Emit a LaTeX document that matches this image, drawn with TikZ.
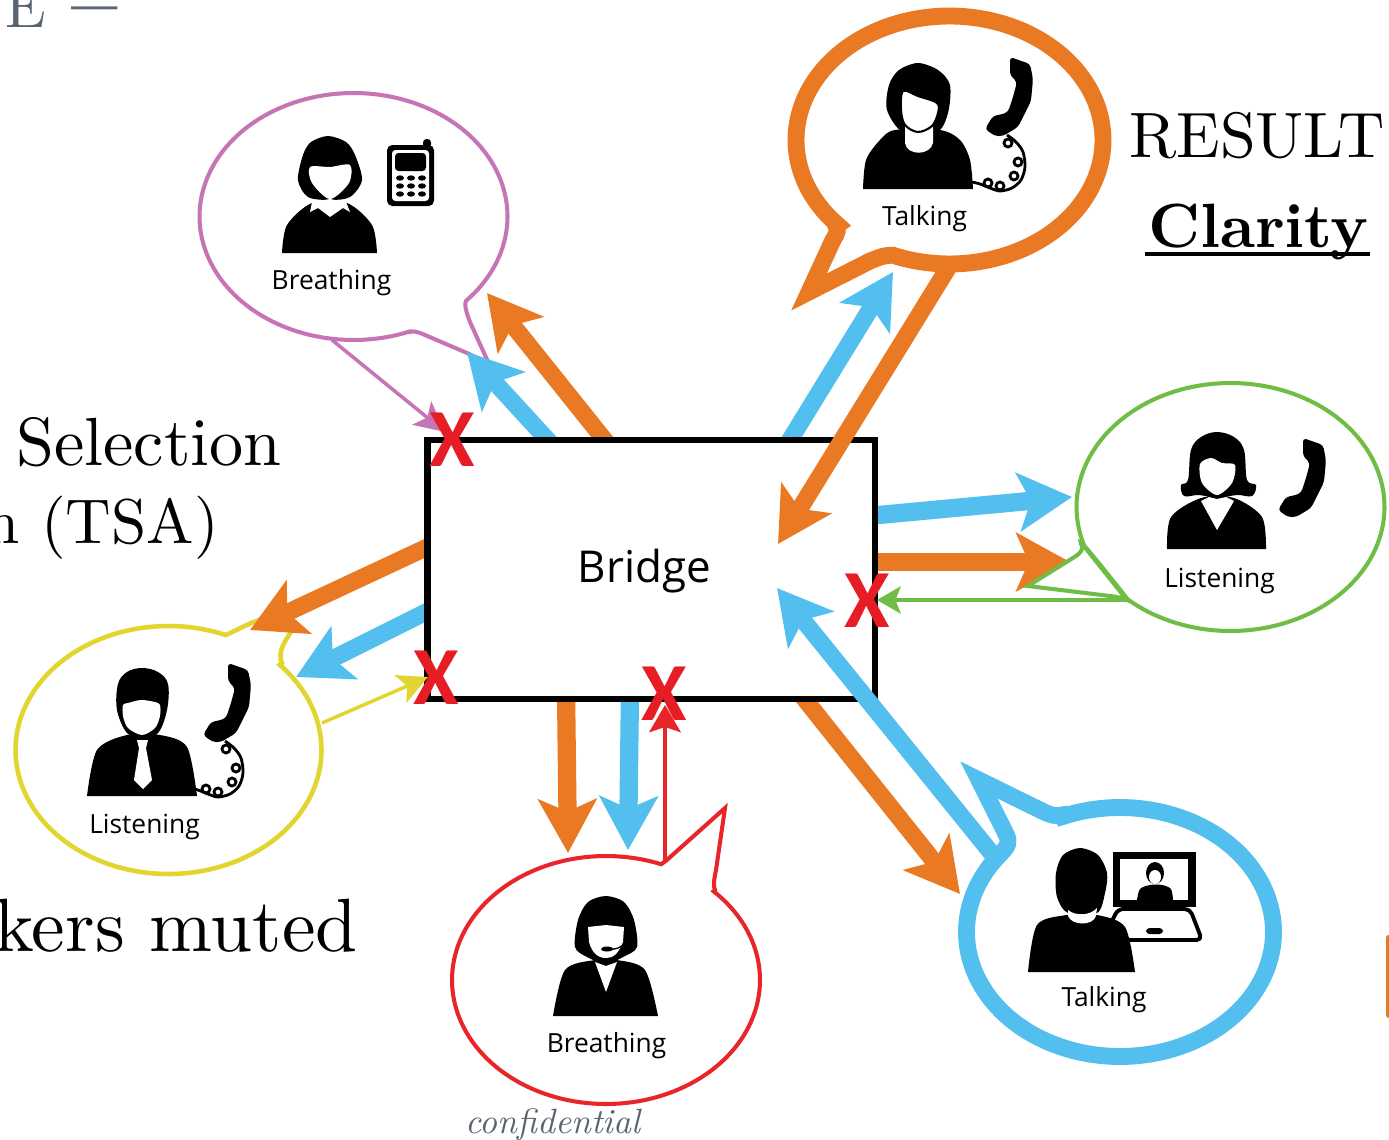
\documentclass[tikz,border=0pt]{standalone}
\usepackage{fontspec}
\usetikzlibrary{arrows.meta}
\newfontfamily\labfont{Open Sans}
\newfontfamily\xfont{Carlito}
\newfontfamily\romanten{lmroman10-regular}[Extension=.otf]
\newfontfamily\romantenit{lmroman10-italic}[Extension=.otf]
\newfontfamily\romantenbf{lmroman10-bold}[Extension=.otf]
\definecolor{cOr}{HTML}{EA7924}
\definecolor{cBl}{HTML}{53BFEE}
\definecolor{cPk}{HTML}{C674B5}
\definecolor{cGn}{HTML}{6FBD45}
\definecolor{cYe}{HTML}{E3D52F}
\definecolor{cRd}{HTML}{E8262A}
\definecolor{cX}{HTML}{E71D25}
\definecolor{cGy}{HTML}{5A6472}
\tikzset{
  bigtip/.style={-{Stealth[length=30.5pt,width=33pt,inset=7pt]}},
  thickshaft/.style={bigtip,line width=10.4pt},
  thinshaft/.style={bigtip,line width=9.8pt},
  smalltip/.style={-{Stealth[length=17pt,width=17pt,inset=4pt]},line width=2pt},
  sil/.style={fill=black},
  wh/.style={fill=white},
  tag/.style={anchor=base,font=\labfont\fontsize{15pt}{17pt}\selectfont,text=black,inner sep=0pt},
  crossmark/.style={text=cX,inner sep=0pt,font=\xfont\bfseries\fontsize{47pt}{50pt}\selectfont},
  bigserif/.style={inner sep=0pt,font=\romanten\fontsize{38.8pt}{42pt}\selectfont}
}
% bubble: colour, width(pt), cx, cy, rx, ry, a1, a2, tail
\newcommand{\speech}[9]{\draw[#1,line width=#2pt,line join=miter,miter limit=20] plot[domain=#7:#8,samples=140] ({#3+#5*cos(\x)},{#4+#6*sin(\x)}) #9 -- cycle;}
\newcommand{\handset}{\fill[black,rounded corners=2] (0,0)--(20,7)--(23,22)--(21,44)--(8,70)--(-7,79)--(-15,79)--(-25,72)--(-17,59)--(-7,57)--(-2,55)--(3,40)--(7,25)--(0,18)--cycle;}
\newcommand{\phonecord}{\draw[black,line width=1.6pt] plot[smooth] coordinates {(-3,78)(6,85)(13,95)(15,110)(11,123)(2,131)(-10,134)(-20,131)(-30,127)(-38,125)};
  \foreach \p in {(-2,86),(8,105),(4,119),(-10,129),(-22,126)} {\draw[black,line width=1.6pt] \p circle[x radius=4,y radius=4];}}
\begin{document}
\begin{tikzpicture}[x=0.02cm,y=-0.02cm]
\clip (0,0) rectangle (1389,1139);
\fill[white] (0,0) rectangle (1389,1139);
% background slide text
\node[bigserif,anchor=base west,font=\romanten\fontsize{36.5pt}{42pt}\selectfont] (tResult) at (1129,157) {RESULT};
\node[anchor=base west,inner sep=0pt,font=\romantenbf\fontsize{35.6pt}{42pt}\selectfont] (tClarity) at (1148,247) {Clarity};
\fill[black] (1145,252) rectangle (1370,256);
\node[bigserif,anchor=base west] (tSel) at (16,465) {Selection};
\node[bigserif,anchor=base east,font=\romanten\fontsize{36pt}{42pt}\selectfont] (tTsa) at (219,543) {n (TSA)};
\node[bigserif,anchor=base east,font=\romanten\fontsize{43pt}{46pt}\selectfont] (tMut) at (358,951) {kers muted};
\node[anchor=base east,inner sep=0pt,text=cGy,font=\romanten\fontsize{34pt}{42pt}\selectfont] (tE) at (47,28) {E};
\node[anchor=base west,inner sep=0pt,text=cGy,font=\romantenbf\fontsize{46pt}{48pt}\selectfont] (tDash) at (71,31) {–};
\node[anchor=base west,inner sep=0pt,text=cGy,font=\romantenit\fontsize{20pt}{22pt}\selectfont] (tConf) at (465,1133) {confidential};
\fill[cOr,rounded corners=1.5] (1386,935) rectangle (1395,1018);
% bubbles
\speech{cPk}{2.3}{353.5}{216.5}{154}{123.5}{68.6}{403}{.. controls (464,303) and (466,312) .. (470,322) -- (489,364) -- (467,353) -- (425,335) .. controls (416,331) and (413,331) .. (410,332)}
\speech{cOr}{9.6}{949.5}{140}{153.5}{124}{136.8}{471.6}{.. controls (885,255) and (880,257) .. (870,261) -- (809,292) -- (833,240) .. controls (838,232) and (838,230) .. (836,226)}
\speech{cYe}{2.6}{168.5}{750}{153}{124}{316.6}{652}{.. controls (243,627) and (250,623) .. (262,619) -- (282,620) -- (291,632) .. controls (282,645) and (278,654) .. (282,663)}
\speech{cRd}{2.3}{606}{980}{154}{124}{314.3}{651}{.. controls (662,863) and (665,862) .. (668,859) -- (725,808) -- (716,870) .. controls (714,880) and (713,886) .. (715,890)}
\speech{cBl}{9.6}{1120}{932}{153.5}{124.5}{248.1}{579.2}{.. controls (1008,846) and (1010,842) .. (1006,834) -- (979,780) -- (1040,810) .. controls (1050,815) and (1056,817) .. (1062,815)}
% arrow end points
\coordinate (a1s) at (611,448); \coordinate (a1t) at (487,293);
\coordinate (a2s) at (555,448); \coordinate (a2t) at (467,352);
\coordinate (a3s) at (785,448); \coordinate (a3t) at (893,272);
\coordinate (a4s) at (948,268); \coordinate (a4t) at (778,544);
\coordinate (a5s) at (868,516); \coordinate (a5t) at (1072,497);
\coordinate (a6s) at (868,562); \coordinate (a6t) at (1070,562);
\coordinate (a7s) at (1130,600); \coordinate (a7t) at (877,600);
\coordinate (a8s) at (993,855); \coordinate (a8t) at (777,588);
\coordinate (a9s) at (799,692); \coordinate (a9t) at (960,894);
\coordinate (a10s) at (566,690); \coordinate (a10t) at (568,853);
\coordinate (a11s) at (630,690); \coordinate (a11t) at (628,850);
\coordinate (a12s) at (665,860); \coordinate (a12t) at (665,705);
\coordinate (a13s) at (434,544); \coordinate (a13t) at (250,630);
\coordinate (a14s) at (434,608); \coordinate (a14t) at (296,677);
\coordinate (a15s) at (322,723); \coordinate (a15t) at (428,677);
\coordinate (a16s) at (332,340); \coordinate (a16t) at (445,432);
% connectors that stop at the bridge: kept outside it
\begin{scope}
\clip (0,0) rectangle (1389,1139) (427.5,440) -- (875,440) -- (875,699) -- (427.5,699) -- cycle;
\draw[thinshaft,cOr] (a1s) -- (a1t);
\draw[thinshaft,cBl] (a2s) -- (a2t);
\draw[thinshaft,cBl] (a3s) -- (a3t);
\draw[thickshaft,cBl] (a5s) -- (a5t);
\draw[thickshaft,cOr] (a6s) -- (a6t);
\draw[thinshaft,cOr] (a9s) -- (a9t);
\draw[thickshaft,cOr] (a10s) -- (a10t);
\draw[thickshaft,cBl] (a11s) -- (a11t);
\draw[thinshaft,cOr] (a13s) -- (a13t);
\draw[thinshaft,cBl] (a14s) -- (a14t);
\end{scope}
% bridge
\node[draw=black,line width=3.7pt,minimum width=8.95cm,minimum height=5.18cm,inner sep=0pt] (b) at (651.25,569.5) {};
\node[anchor=base,inner sep=0pt,text=black,font=\labfont\fontsize{25pt}{27pt}\selectfont] (bt) at (644.5,582) {Bridge};
% connectors crossing the bridge outline
\draw[thinshaft,cOr] (a4s) -- (a4t);
\draw[thinshaft,cBl] (a8s) -- (a8t);
\draw[smalltip,cGn,-{Stealth[length=13.5pt,width=15.5pt,inset=3pt]},line width=1.8pt] (a7s) -- (a7t);
\draw[smalltip,cRd,-{Stealth[length=15.5pt,width=18pt,inset=3pt]},line width=1.8pt] (a12s) -- (a12t);
\draw[smalltip,cYe] (a15s) -- (a15t);
\draw[smalltip,cPk] (a16s) -- (a16t);
% green bubble over the orange head
\speech{cGn}{2.3}{1230.5}{507}{154}{124}{161}{491.9}{.. controls (1077,535) and (1079,540) .. (1082,546) .. controls (1083,550) and (1080,553) .. (1076,556) -- (1028,586) -- (1110,596) .. controls (1118,597) and (1123,598) .. (1127,600)}
% X marks
\node[crossmark] (x1) at (452,440) {X};
\node[crossmark] (x2) at (436,678) {X};
\node[crossmark] (x3) at (664,694) {X};
\node[crossmark] (x4) at (867,601) {X};
% pink person and mobile
\fill[sil] plot[smooth] coordinates {(282,253)(287,225)(312,203)(347,203)(372,225)(377,253)} -- cycle;
\fill[sil] plot[smooth cycle] coordinates {(328,136)(311,142)(303,155)(298,180)(308,197)(330,200)(350,197)(362,180)(355,155)(346,142)};
\fill[wh] plot[smooth cycle,tension=.5] coordinates {(310,167)(330,167)(350,165)(349,183)(330,199)(312,183)};
\fill[wh] (312,202)--(310,212)--(318,208)--(330,217)--(343,208)--(350,212)--(346,202)--(330,199)--cycle;
\fill[sil,rounded corners=3] (387,145) rectangle (434,206);
\fill[sil,rounded corners=2] (423,139) rectangle (431,148);
\fill[wh,rounded corners=2] (392,150) rectangle (429,201);
\fill[sil,rounded corners=2] (395,153) rectangle (426,171);
\foreach \yy in {178,186,194}{\foreach \xx in {400,411,422}{\fill[sil] (\xx,\yy) circle[x radius=4,y radius=2.7];}}
\node[tag] (l1) at (331.5,289) {Breathing};
% orange person and phone
\fill[sil] plot[smooth] coordinates {(863,189)(866,160)(880,140)(895,130)(940,130)(960,140)(970,160)(973,189)} -- cycle;
\fill[sil] plot[smooth cycle] coordinates {(918,63)(899,70)(889,85)(887,110)(903,132)(937,132)(948,113)(950,85)(938,70)};
\fill[wh] (905,125) -- (905,143) .. controls (907,156) and (930,156) .. (933,143) -- (933,125) -- cycle;
\draw[black,line width=1.2pt,fill=white] plot[smooth cycle,tension=.55] coordinates {(903,91)(918,96)(937,103)(938,113)(932,126)(918,132)(905,125)(901,110)};
\begin{scope}[shift={(1010,57)}]\phonecord\handset\end{scope}
\node[tag] (l2) at (924.5,225) {Talking};
% green person and phone
\fill[sil] plot[smooth] coordinates {(1167,549)(1171,517)(1201,498)(1234,498)(1262,517)(1266,549)} -- cycle;
\fill[sil] plot[smooth cycle,tension=.6] coordinates {(1217,432)(1201,437)(1191,450)(1188,480)(1181,485)(1184,496)(1199,495)(1217,498)(1237,495)(1252,496)(1256,485)(1247,480)(1244,450)(1234,437)};
\fill[wh] plot[smooth cycle,tension=.5] coordinates {(1211,458)(1200,464)(1202,483)(1217,495)(1232,483)(1235,465)(1222,463)};
\fill[wh] (1201,501) -- (1217,530) -- (1234,501) -- (1226,497) -- (1217,499) -- (1209,497) -- cycle;
\begin{scope}[shift={(1303,438)}]\handset\end{scope}
\node[tag] (l3) at (1219.5,587) {Listening};
% yellow person and phone
\fill[sil] plot[smooth] coordinates {(87,796)(97,750)(127,735)(160,735)(187,747)(197,796)} -- cycle;
\fill[sil] plot[smooth cycle,tension=.6] coordinates {(142,668)(127,672)(118,684)(117,710)(127,733)(142,738)(158,733)(167,710)(168,684)(158,672)};
\fill[wh] plot[smooth cycle,tension=.5] coordinates {(123,705)(128,703)(141,700)(155,702)(160,705)(160,716)(155,728)(142,735)(128,728)(123,716)};
\fill[wh] (137,740)--(148,740)--(146,748)--(152,780)--(143,789)--(134,780)--(139,748)--cycle;
\begin{scope}[shift={(228,663)}]\phonecord\handset\end{scope}
\node[tag] (l4) at (144.5,833) {Listening};
% blue person and video call
\fill[sil] (1113,852) rectangle (1196,907);
\fill[wh] (1120,859) rectangle (1188,900);
\fill[sil] plot[smooth] coordinates {(1137,900)(1140,889)(1150,885)(1162,885)(1171,889)(1173,900)} -- cycle;
\fill[sil] (1155,873) circle[x radius=9,y radius=11];
\fill[wh] (1155,877) circle[x radius=6,y radius=7];
\draw[black,line width=2.2pt,fill=white,line join=round,rounded corners=3] (1110,925) -- (1118,909) -- (1190,909) -- (1202,940) -- (1125,940) -- cycle;
\fill[sil,rounded corners=2] (1146,928) rectangle (1163,934);
\fill[sil] plot[smooth] coordinates {(1028,972)(1037,925)(1067,915)(1097,915)(1125,927)(1135,972)} -- cycle;
\fill[sil] plot[smooth cycle] coordinates {(1080,848)(1063,855)(1056,873)(1057,897)(1068,913)(1097,913)(1105,893)(1107,873)(1098,855)};
\fill[wh] (1068,910) -- (1068,916) .. controls (1072,926) and (1093,926) .. (1096,916) -- (1097,908) .. controls (1090,916) and (1075,916) .. (1068,910) -- cycle;
\node[tag] (l5) at (1104,1006) {Talking};
% red person with headset
\fill[sil] plot[smooth] coordinates {(553,1016)(565,970)(595,960)(617,960)(645,970)(658,1016)} -- cycle;
\fill[sil] plot[smooth cycle] coordinates {(606,896)(588,902)(578,920)(575,947)(587,957)(606,964)(623,957)(637,947)(634,920)(624,902)};
\fill[wh] (588,927) -- (606,925) -- (624,927) -- (623,942) .. controls (618,955) and (612,958) .. (606,958) .. controls (598,958) and (592,953) .. (589,942) -- cycle;
\fill[wh] (595,962) -- (606,966) -- (617,962) -- (606,992) -- cycle;
\fill[sil] (607,949) ellipse[x radius=6,y radius=2.5];
\draw[black,line width=.8pt] (607,949) .. controls (615,950) and (622,948) .. (625,942);
\node[tag] (l6) at (606.5,1052) {Breathing};
\end{tikzpicture}
\end{document}
